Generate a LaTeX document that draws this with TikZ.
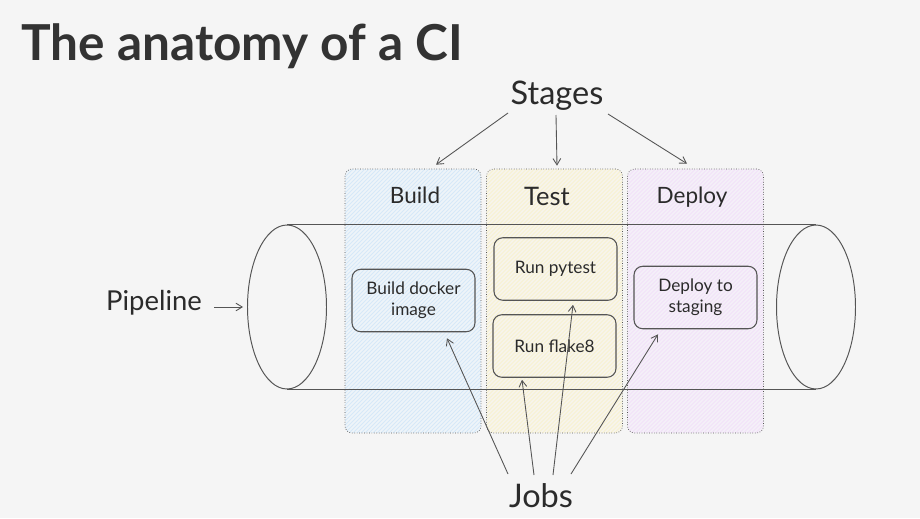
\documentclass[tikz,border=0pt]{standalone}
\usepackage{fontspec}
\setmainfont{Lato}
\usetikzlibrary{arrows.meta,shapes.geometric}
\definecolor{paper}{HTML}{F5F5F5}
\definecolor{ink}{HTML}{2B2B2B}
\definecolor{titleink}{HTML}{333333}
\definecolor{pencil}{HTML}{555555}
\definecolor{blueback}{HTML}{EEF4F9}
\definecolor{blueline}{HTML}{D6E8F8}
\definecolor{yellowback}{HTML}{F7F5EC}
\definecolor{yellowline}{HTML}{F8F1D2}
\definecolor{purpleback}{HTML}{F5F0F8}
\definecolor{purpleline}{HTML}{F1E1F8}

\begin{document}
\begin{tikzpicture}[x=0.02cm, y=-0.02cm, >={Straight Barb[length=3.6pt,width=4.4pt]},
    stagebox/.style n args={2}{rectangle, draw=pencil, densely dotted, line width=0.4pt, rounded corners=4pt,
        fill=#1, minimum width=2.72cm, minimum height=5.28cm, path picture={
            \foreach \d in {0,4,...,400}
                \draw [#2, solid, line width=0.6pt]
                    ([shift={(\d-264,0)}]path picture bounding box.south west) -- +(270,-270);
        }},
    jobbox/.style={rectangle, draw=pencil, line width=0.6pt, rounded corners=5pt, align=center,
        minimum width=2.46cm, minimum height=1.25cm, font=\fontsize{9.8}{12}\selectfont, text=ink},
    pipeend/.style={ellipse, draw=pencil, line width=0.55pt, minimum width=1.58cm, minimum height=3.28cm, inner sep=0pt},
    hand/.style={text=ink, inner sep=0pt, font=\fontsize{18.5}{21}\selectfont},
    stagename/.style={text=ink, inner sep=0pt, font=\fontsize{12.8}{15}\selectfont},
    link/.style={->, draw=pencil, line width=0.5pt}]
    \fill [paper, use as bounding box] (0,0) rectangle (920,518);

    \node [text=titleink, anchor=west, inner sep=0pt, font=\fontsize{28.2}{32}\selectfont\bfseries] (title) at (21,46) {The anatomy of a CI};

    % stages
    \node [stagebox={blueback}{blueline}] (build) at (413,301) {};
    \node [stagebox={yellowback}{yellowline}] (test) at (554.5,301) {};
    \node [stagebox={purpleback}{purpleline}] (deploy) at (695.5,301) {};
    \node [stagename] (buildname) at (415,195) {Build};
    \node [stagename, font=\fontsize{14.5}{17}\selectfont] (testname) at (547,196) {Test};
    \node [stagename] (deployname) at (692,197) {Deploy};

    % pipe
    \node [pipeend] (pipein) at (287,307) {};
    \node [pipeend] (pipeout) at (816,307) {};
    \draw [draw=pencil, line width=0.55pt] (pipein.north) -- (pipeout.north);
    \draw [draw=pencil, line width=0.55pt] (pipein.south) -- (pipeout.south);

    % jobs
    \node [jobbox] (dockerjob) at (413.5,300.5) {Build docker\\image};
    \node [jobbox] (pytestjob) at (555.5,269) {Run pytest};
    \node [jobbox] (flakejob) at (554.5,346) {Run flake8};
    \node [jobbox] (stagingjob) at (695.5,297.5) {Deploy to\\staging};

    % labels
    \node [hand] (stages) at (557,96) {Stages};
    \node [hand] (jobs) at (541,496) {Jobs};
    \node [hand, font=\fontsize{15.6}{18}\selectfont] (pipeline) at (154,303) {Pipeline};

    \draw [link] ([shift={(-49,17)}]stages.center) -- ([shift={(23,-4)}]build.north);
    \draw [link] ([shift={(-1,19)}]stages.center) -- ([shift={(2.5,-3)}]test.north);
    \draw [link] ([shift={(51,18)}]stages.center) -- ([shift={(-8.5,-5)}]deploy.north);
    \draw [link] ([shift={(60,4)}]pipeline.center) -- ([shift={(-4,0)}]pipein.west);
    \draw [link] ([shift={(-33,-22)}]jobs.center) -- ([shift={(33.5,6)}]dockerjob.south);
    \draw [link] ([shift={(-7,-21)}]jobs.center) -- ([shift={(-32.5,2)}]flakejob.south);
    \draw [link] ([shift={(12,-21)}]jobs.center) -- ([shift={(17.5,4)}]pytestjob.south);
    \draw [link] ([shift={(30,-22)}]jobs.center) -- ([shift={(-37.5,5)}]stagingjob.south);
\end{tikzpicture}
\end{document}
